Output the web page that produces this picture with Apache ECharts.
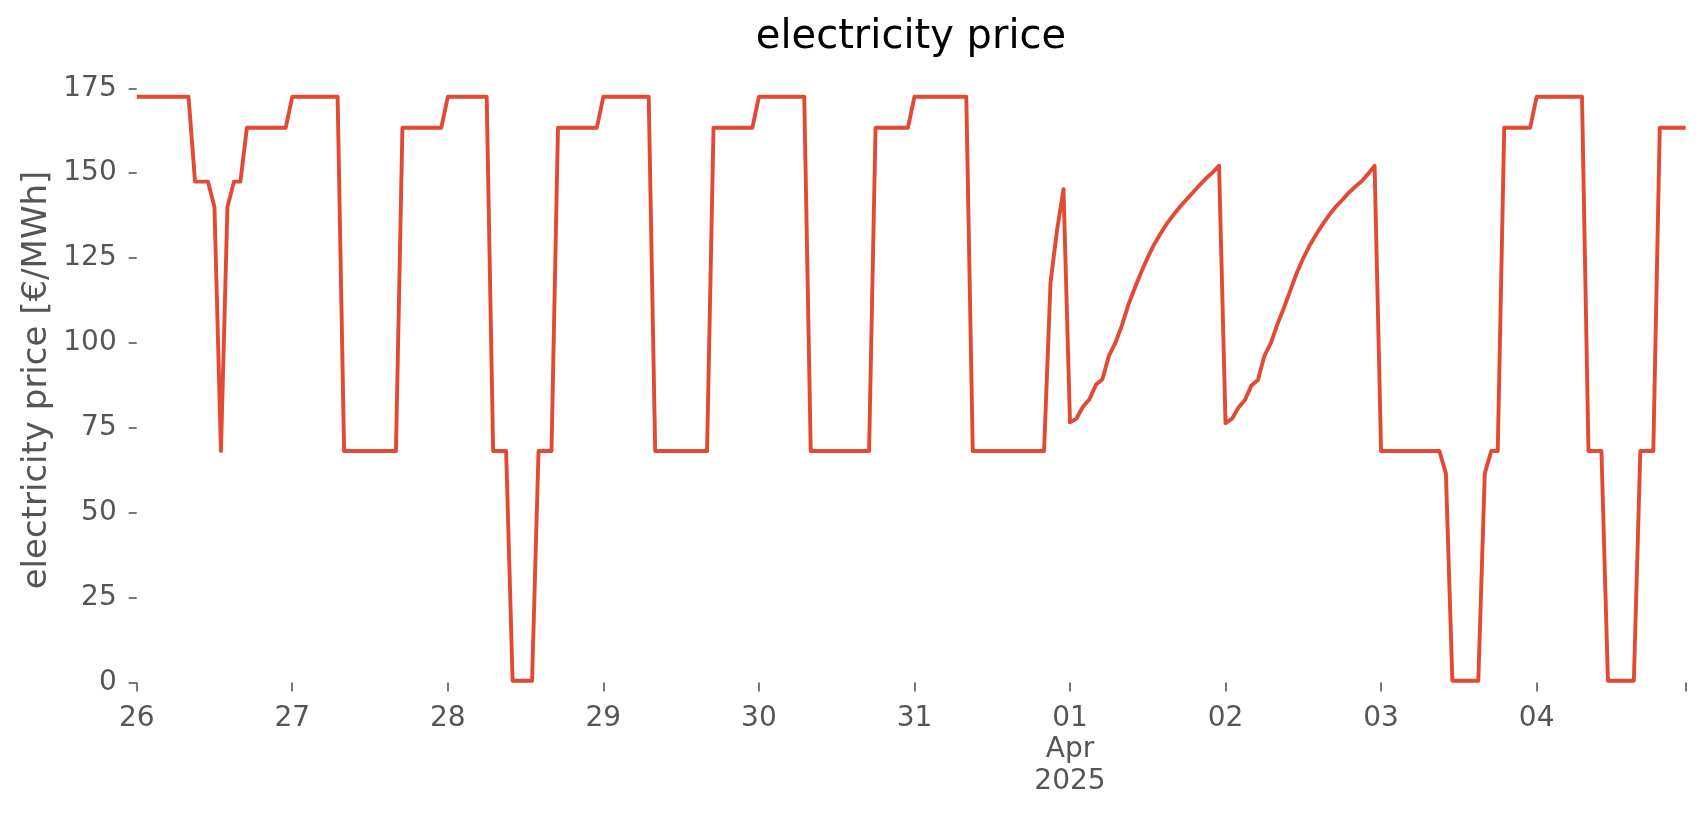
<!DOCTYPE html>
<html>
<head>
<meta charset="utf-8">
<script src="https://cdn.jsdelivr.net/npm/echarts@6/dist/echarts.min.js"></script>
<style>
html,body{margin:0;padding:0;background:#fff;}
#chart{width:1706px;height:815px;}
</style>
</head>
<body>
<div id="chart"></div>
<script>
// Hourly electricity price [€/MWh], 2025-03-26 00:00 .. 2025-04-04 23:00
const mar26 = [172.5,172.5,172.5,172.5,172.5,172.5,172.5,172.5,172.5,147.5,147.5,147.5,140.0,68.2,140.0,147.5,147.5,163.4,163.4,163.4,163.4,163.4,163.4,163.4];
const mar27 = [172.5,172.5,172.5,172.5,172.5,172.5,172.5,172.5,68.2,68.2,68.2,68.2,68.2,68.2,68.2,68.2,68.2,163.4,163.4,163.4,163.4,163.4,163.4,163.4];
const mar28 = [172.5,172.5,172.5,172.5,172.5,172.5,172.5,68.2,68.2,68.2,0.5,0.5,0.5,0.5,68.2,68.2,68.2,163.4,163.4,163.4,163.4,163.4,163.4,163.4];
const mar29 = [172.5,172.5,172.5,172.5,172.5,172.5,172.5,172.5,68.2,68.2,68.2,68.2,68.2,68.2,68.2,68.2,68.2,163.4,163.4,163.4,163.4,163.4,163.4,163.4];
const mar30 = [172.5,172.5,172.5,172.5,172.5,172.5,172.5,172.5,68.2,68.2,68.2,68.2,68.2,68.2,68.2,68.2,68.2,68.2,163.4,163.4,163.4,163.4,163.4,163.4];
const mar31 = [172.5,172.5,172.5,172.5,172.5,172.5,172.5,172.5,172.5,68.2,68.2,68.2,68.2,68.2,68.2,68.2,68.2,68.2,68.2,68.2,68.2,117.9,133.2,145.3];
const apr01 = [76.6,77.7,81.2,83.4,87.7,89.3,96.2,100.0,105.1,111.2,116.2,120.9,125.2,129.1,132.3,135.3,137.8,140.2,142.3,144.4,146.5,148.5,150.2,152.2];
const apr02 = [76.4,77.7,81.0,83.2,87.5,89.1,96.2,100.0,105.5,110.3,115.5,120.7,125.0,128.8,132.0,135.0,137.7,140.1,142.1,144.2,146.0,147.6,149.8,152.2];
const apr03 = [68.2,68.2,68.2,68.2,68.2,68.2,68.2,68.2,68.2,68.2,61.6,0.5,0.5,0.5,0.5,0.5,61.6,68.2,68.2,163.4,163.4,163.4,163.4,163.4];
const apr04 = [172.5,172.5,172.5,172.5,172.5,172.5,172.5,172.5,68.2,68.2,68.2,0.5,0.5,0.5,0.5,0.5,68.2,68.2,68.2,163.4,163.4,163.4,163.4,163.4];

const days = [mar26, mar27, mar28, mar29, mar30, mar31, apr01, apr02, apr03, apr04];
const dayLabels = ['26','27','28','29','30','31','01\nApr\n2025','02','03','04'];
const yTicks = [0, 25, 50, 75, 100, 125, 150, 175];

const seriesData = [];
days.forEach((arr, d) => arr.forEach((v, h) => seriesData.push([d * 24 + h, v])));

const chart = echarts.init(document.getElementById('chart'));
const FONT = 'DejaVu Sans';
chart.setOption({
  backgroundColor: '#ffffff',
  animation: false,
  grid: { left: 136.7, right: 20.3, top: 88.3, bottom: 132.5 },
  xAxis: {
    type: 'value',
    min: 0,
    max: seriesData.length - 1,
    interval: 24,
    offset: 1,
    axisLine: { show: false },
    splitLine: { show: false },
    axisTick: { show: true, length: 9, lineStyle: { color: '#555555', width: 1.6 } },
    axisLabel: {
      show: true,
      margin: 19,
      fontFamily: FONT,
      fontSize: 28,
      lineHeight: 31.5,
      color: '#555555',
      showMaxLabel: true,
      formatter: function (v) {
        if (v % 24 !== 0) return '';
        const i = v / 24;
        return dayLabels[i] !== undefined ? dayLabels[i] : '';
      }
    }
  },
  yAxis: {
    type: 'value',
    min: yTicks[0],
    max: yTicks[yTicks.length - 1],
    interval: 25,
    axisLine: { show: false },
    splitLine: { show: false },
    axisTick: { show: true, length: 8, lineStyle: { color: '#555555', width: 1.6 } },
    axisLabel: { margin: 20, fontFamily: FONT, fontSize: 28, color: '#555555' }
  },
  graphic: [{
    type: 'text',
    x: 911,
    y: 38,
    style: {
      text: 'electricity price',
      font: '40px "DejaVu Sans"',
      fill: '#000000',
      textAlign: 'center',
      textVerticalAlign: 'middle'
    }
  }, {
    type: 'text',
    x: 37,
    y: 380,
    rotation: Math.PI / 2,
    style: {
      text: 'electricity price [€/MWh]',
      font: '34px "DejaVu Sans"',
      fill: '#555555',
      textAlign: 'center',
      textVerticalAlign: 'middle'
    }
  }],
  series: [{
    type: 'line',
    data: seriesData,
    showSymbol: false,
    symbol: 'none',
    clip: false,
    lineStyle: { color: '#E24A33', width: 3.9, join: 'round', cap: 'butt' },
    itemStyle: { color: '#E24A33' }
  }]
});
</script>
</body>
</html>
